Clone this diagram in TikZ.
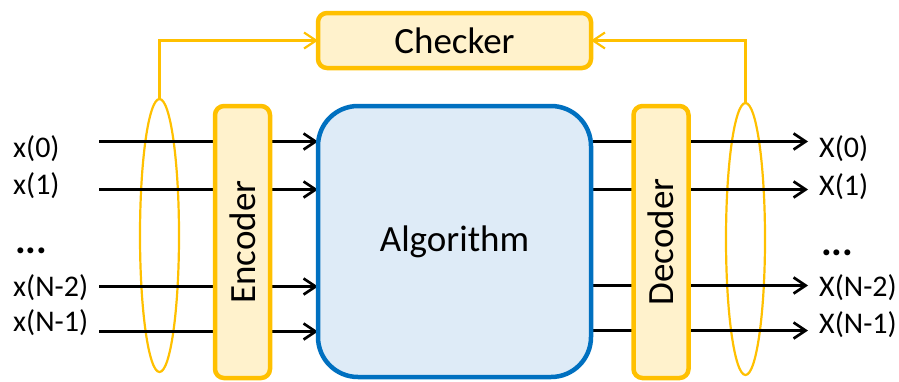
\documentclass[tikz,border=0pt]{standalone}
\usepackage{fontspec}
\setmainfont{Carlito}
\usetikzlibrary{arrows.meta,shapes.geometric}
\definecolor{gold}{HTML}{FFC000}
\definecolor{goldfill}{HTML}{FFF2CC}
\definecolor{blueline}{HTML}{0070C0}
\definecolor{bluefill}{HTML}{DEEBF7}
\pgfdeclarelayer{background}
\pgfsetlayers{background,main}
\begin{document}
\begin{tikzpicture}[x=1pt,y=-1pt,
  yellowbox/.style={draw=gold, fill=goldfill, line width=4.5pt, rounded corners=9pt, inner sep=0pt, outer sep=0pt, font=\fontsize{37}{40}\selectfont},
  algobox/.style={draw=blueline, fill=bluefill, line width=4.5pt, rounded corners=40pt, inner sep=0pt, outer sep=0pt, font=\fontsize{37}{40}\selectfont},
  loop/.style={draw=gold, ellipse, line width=2.2pt, inner sep=0pt, outer sep=0pt},
  sig/.style={line width=2.7pt, -{Straight Barb[length=12pt,width=16pt]}},
  feed/.style={draw=gold, line width=2.2pt, -{Straight Barb[length=12pt,width=16pt]}},
  lbl/.style={font=\fontsize{30}{32}\selectfont, inner sep=0pt, anchor=west, text height=0.75em, text depth=0.19em},
  dots/.style={font=\fontsize{40}{42}\selectfont\bfseries, inner sep=0pt, anchor=west},
]
\useasboundingbox (0,0) rectangle (899,381);

% main nodes
\node[yellowbox, minimum width=273pt, minimum height=55pt] (chk) at (454.5,40.5) {Checker};
\node[algobox, minimum width=273pt, minimum height=271pt] (alg) at (454.5,241.5) {Algorithm};
\node[yellowbox, rotate=90, minimum width=272pt, minimum height=55pt] (enc) at (242.5,242) {Encoder};
\node[yellowbox, rotate=90, minimum width=272pt, minimum height=55pt] (dec) at (661,242) {Decoder};

% labels
\node[lbl] (l0) at (13,155) {x(0)};
\node[lbl] (l1) at (13,192) {x(1)};
\node[dots] (ld) at (15,251) {...};
\node[lbl] (l2) at (13,294) {x(N-2)};
\node[lbl] (l3) at (13,329) {x(N-1)};

\node[lbl] (r0) at (819,155) {X(0)};
\node[lbl] (r1) at (819,193) {X(1)};
\node[dots] (rd) at (821,253) {...};
\node[lbl] (r2) at (819,294) {X(N-2)};
\node[lbl] (r3) at (819,331) {X(N-1)};

% line end points
\coordinate (i0) at (99,141.5);
\coordinate (i1) at (99,189.5);
\coordinate (i2) at (99,286.5);
\coordinate (i3) at (99,331.5);
\coordinate (o0) at (808,141.5);
\coordinate (o1) at (808,189.5);
\coordinate (o2) at (808,285.5);
\coordinate (o3) at (808,330.5);

\begin{pgfonlayer}{background}
  \node[loop, minimum width=39pt, minimum height=273pt] (ell) at (159.5,235.5) {};
  \node[loop, minimum width=39pt, minimum height=272pt] (elr) at (745.5,239) {};
  \draw[feed] (ell.north) |- (chk.west);
  \draw[feed] (elr.north) |- (chk.east);
  \foreach \c in {i0,i1,i2,i3} {
    \draw[sig] (\c) -- (\c -| alg.west);
  }
  \foreach \c in {o0,o1,o2,o3} {
    \draw[sig] (\c -| alg.east) -- (\c);
  }
\end{pgfonlayer}
\end{tikzpicture}
\end{document}
